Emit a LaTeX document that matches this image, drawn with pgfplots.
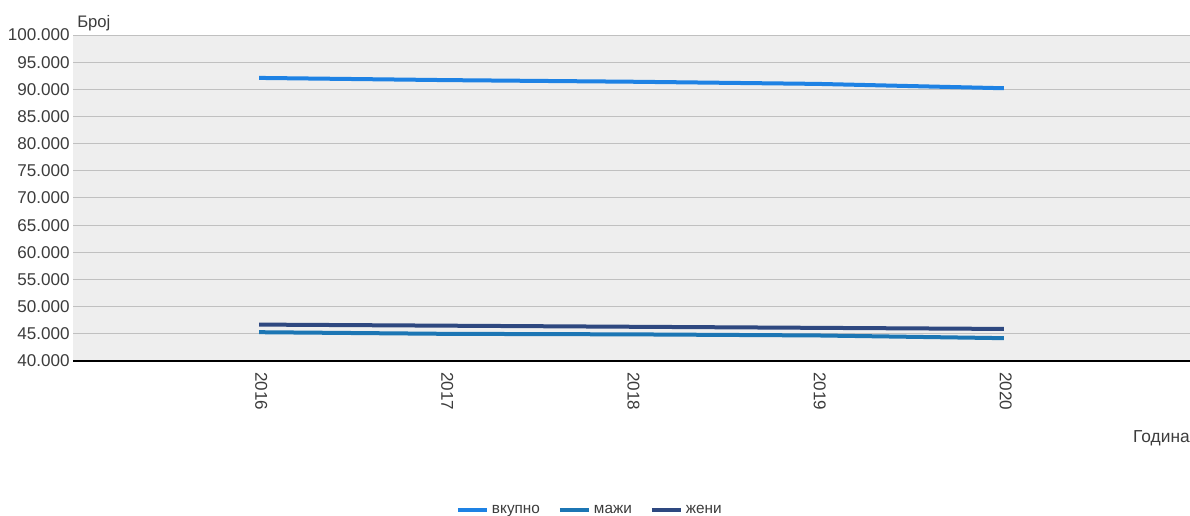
\documentclass[border=0pt]{standalone}
\usepackage{pgfplots}
\pgfplotsset{compat=1.18}
\usepackage{fontspec}
\setmainfont{Liberation Sans}

\definecolor{cTotal}{RGB}{30,130,228}
\definecolor{cMen}{RGB}{28,118,180}
\definecolor{cWomen}{RGB}{46,72,128}
\definecolor{plotbg}{RGB}{238,238,238}
\definecolor{gridc}{RGB}{192,192,192}
\definecolor{labelc}{RGB}{60,60,60}

\begin{document}
\begin{tikzpicture}
\path[use as bounding box] (0,0) rectangle (892.5pt,387pt);
\begin{axis}[
    at={(54.75pt,116.25pt)}, anchor=south west,
    scale only axis,
    width=837.75pt, height=244.5pt,
    xmin=2015, xmax=2021,
    ymin=40000, ymax=100000,
    xtick={2016,2017,2018,2019,2020},
    ytick distance=5000,
    scaled y ticks=false,
    /pgf/number format/.cd, fixed, precision=0, 1000 sep={.}, assume math mode=true,
    /pgfplots/.cd,
    xticklabel style={/pgf/number format/1000 sep={}, rotate=-90, anchor=west, xshift=5pt, yshift=1.5pt},
    tick label style={font=\fontsize{12.8}{15}\selectfont, text=labelc},
    yticklabel style={xshift=1pt},
    major tick length=0pt,
    ymajorgrids, grid style={gridc, line width=0.75pt},
    axis background/.style={fill=plotbg},
    axis x line*=bottom, axis y line*=left,
    x axis line style={black, line width=0.9pt, -},
    y axis line style={draw=none},
    clip=false,
    legend style={at={(0.463,-0.458)}, anchor=center, draw=none, fill=none,
        font=\fontsize{11.5}{13}\selectfont, text=labelc, legend columns=3,
        /tikz/every even column/.append style={column sep=11.5pt}},
    legend image code/.code={\draw[#1, line width=3pt] (0pt,0pt) -- (22pt,0pt);},
]
\addplot[cTotal, line width=3pt] coordinates {
    (2016,92100) (2017,91700) (2018,91400) (2019,91000) (2020,90200)
};
\addplot[cMen, line width=3pt] coordinates {
    (2016,45300) (2017,45000) (2018,44900) (2019,44700) (2020,44200)
};
\addplot[cWomen, line width=3pt] coordinates {
    (2016,46700) (2017,46500) (2018,46300) (2019,46100) (2020,45900)
};
\legend{вкупно, мажи, жени}
\node[anchor=south west, font=\fontsize{12.5}{15}\selectfont, text=labelc, inner sep=0pt]
    at (rel axis cs:0,1) [xshift=3pt, yshift=3pt] {Број};
\node[anchor=east, font=\fontsize{13}{15}\selectfont, text=labelc, inner sep=0pt]
    at (rel axis cs:1,0) [yshift=-58pt] {Година};
\end{axis}
\end{tikzpicture}
\end{document}
